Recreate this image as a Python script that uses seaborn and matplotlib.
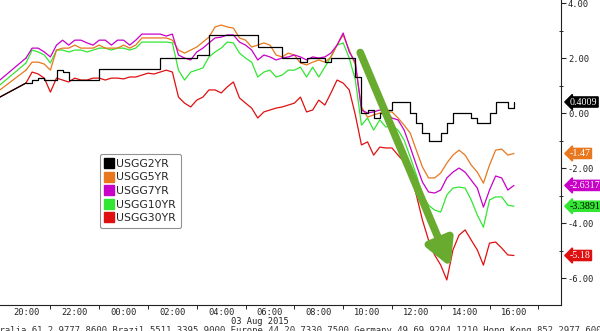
import numpy as np
import pandas as pd
import matplotlib
matplotlib.use("Agg")
import matplotlib.pyplot as plt
import seaborn as sns
from matplotlib.lines import Line2D

# ---------------- data ----------------
series_names = ["USGG2YR", "USGG5YR", "USGG7YR", "USGG10YR", "USGG30YR"]
colors = ["#000000", "#e8771e", "#c800c8", "#33e633", "#e01010"]
last_values = [0.4009, -1.47, -2.6317, -3.3891, -5.18]
last_labels = ["0.4009", "-1.47", "-2.6317", "-3.3891", "-5.18"]
tag_text_colors = ["white", "white", "white", "black", "white"]

# hours relative to 20:00 (02 Aug); first point = previous close, then 15-min bars to 16:00 (03 Aug)
prev_close_hour = -1.07
bar_hours = np.arange(81) * 0.25

usgg2 = [0.58,
         1.09, 1.20, 1.27, 1.20, 1.20, 1.56, 1.49, 1.20, 1.20, 1.20,
         1.20, 1.20, 1.60, 1.60, 1.60, 1.60, 1.60, 1.60, 1.60, 1.60,
         1.60, 1.60, 2.00, 2.00, 2.00, 2.00, 2.00, 2.00, 2.11, 2.11,
         2.84, 2.84, 2.84, 2.84, 2.84, 2.84, 2.84, 2.84, 2.40, 2.40,
         2.40, 2.40, 2.00, 2.00, 2.00, 1.85, 2.00, 2.00, 2.00, 1.85,
         2.00, 2.00, 2.00, 2.00, 1.31, 0.00, 0.11, -0.18, 0.00, 0.11,
         0.40, 0.40, 0.40, 0.00, -0.36, -0.73, -1.02, -1.02, -0.73, -0.36,
         0.00, 0.00, 0.00, -0.18, -0.36, -0.36, 0.00, 0.40, 0.40, 0.18,
         0.4009]
usgg5 = [0.84,
         1.56, 1.85, 1.85, 1.78, 1.56, 2.29, 2.36, 2.36, 2.47, 2.36,
         2.36, 2.36, 2.47, 2.36, 2.36, 2.36, 2.47, 2.36, 2.47, 2.73,
         2.73, 2.73, 2.73, 2.73, 2.65, 2.29, 2.18, 2.29, 2.40, 2.58,
         2.76, 3.13, 3.20, 3.13, 3.09, 2.73, 2.65, 2.40, 2.47, 2.55,
         2.47, 2.11, 2.04, 2.18, 2.11, 1.82, 1.75, 1.85, 1.93, 1.85,
         2.04, 2.47, 2.84, 2.29, 1.75, 0.22, -0.15, -0.07, 0.00, 0.04,
         0.04, -0.18, -0.44, -0.73, -1.35, -1.96, -2.36, -2.36, -2.18, -1.82,
         -1.53, -1.35, -1.53, -1.89, -2.15, -2.55, -1.89, -1.35, -1.31, -1.53,
         -1.47]
usgg7 = [1.20,
         2.00, 2.36, 2.36, 2.22, 2.04, 2.47, 2.65, 2.47, 2.65, 2.65,
         2.55, 2.47, 2.65, 2.65, 2.47, 2.65, 2.65, 2.47, 2.65, 2.87,
         2.87, 2.87, 2.87, 2.80, 2.87, 2.11, 2.00, 1.93, 2.22, 2.36,
         2.55, 2.73, 2.76, 2.84, 2.84, 2.58, 2.47, 2.29, 1.93, 2.11,
         2.04, 1.93, 2.00, 2.04, 2.11, 2.04, 1.93, 2.04, 2.00, 2.04,
         2.18, 2.47, 2.91, 2.22, 1.85, 0.11, 0.00, 0.04, 0.11, 0.04,
         -0.18, -0.25, -0.62, -1.24, -1.89, -2.51, -2.87, -2.91, -2.80, -2.36,
         -2.15, -2.00, -2.15, -2.44, -2.73, -3.42, -2.80, -2.29, -2.36, -2.80,
         -2.6317]
usgg10 = [1.02,
          1.82, 2.29, 2.22, 2.11, 1.82, 2.29, 2.29, 2.22, 2.29, 2.29,
          2.22, 2.29, 2.36, 2.36, 2.29, 2.36, 2.36, 2.29, 2.36, 2.58,
          2.58, 2.58, 2.58, 2.58, 2.55, 1.56, 1.20, 1.49, 1.56, 1.64,
          2.04, 2.22, 2.36, 2.58, 2.55, 2.18, 2.00, 1.85, 1.31, 1.49,
          1.56, 1.31, 1.38, 1.56, 1.56, 1.67, 1.31, 1.67, 1.31, 1.67,
          2.04, 2.47, 2.55, 2.00, 1.20, -0.44, -0.18, -0.62, -0.25, -0.51,
          -0.44, -0.62, -0.98, -1.60, -2.25, -2.98, -3.35, -3.53, -3.60, -2.98,
          -2.73, -2.69, -2.73, -3.16, -3.71, -4.15, -3.16, -3.05, -3.05, -3.35,
          -3.3891]
usgg30 = [0.58,
          1.09, 1.49, 1.42, 1.27, 0.76, 1.27, 1.20, 1.13, 1.27, 1.20,
          1.20, 1.27, 1.27, 1.20, 1.27, 1.27, 1.24, 1.31, 1.31, 1.38,
          1.45, 1.42, 1.49, 1.56, 1.49, 0.58, 0.36, 0.22, 0.47, 0.58,
          0.84, 0.84, 0.73, 0.95, 1.13, 0.55, 0.36, 0.18, -0.18, 0.04,
          0.11, 0.18, 0.22, 0.29, 0.36, 0.58, 0.04, 0.11, 0.47, 0.29,
          0.73, 1.20, 1.09, 0.84, -0.07, -1.16, -1.05, -1.53, -1.24, -1.27,
          -1.27, -1.53, -1.78, -2.18, -2.98, -3.89, -4.62, -5.16, -5.53, -6.07,
          -4.98, -4.44, -4.25, -4.62, -4.98, -5.53, -4.73, -4.69, -4.91, -5.16,
          -5.18]

x_tick_hours = list(range(0, 21, 2))
x_tick_labels = ["20:00", "22:00", "00:00", "02:00", "04:00", "06:00",
                 "08:00", "10:00", "12:00", "14:00", "16:00"]
y_ticks = [-6, -4, -2, 0, 2, 4]
date_label = "03 Aug 2015"
footer = ("Australia 61 2 9777 8600 Brazil 5511 3395 9000 Europe 44 20 7330 7500 "
          "Germany 49 69 9204 1210 Hong Kong 852 2977 6000")

# ---------------- frame ----------------
times = np.concatenate([[prev_close_hour], bar_hours])
all_vals = [usgg2, usgg5, usgg7, usgg10, usgg30]
frames = []
for name, vals in zip(series_names, all_vals):
    frames.append(pd.DataFrame({"series": name, "hour": times, "value": vals}))
df = pd.concat(frames, ignore_index=True)
palette = dict(zip(series_names, colors))

sns.set_style("white")
plt.rcParams["axes.unicode_minus"] = False

fig = plt.figure(figsize=(6.0, 3.31), dpi=100)
ax = fig.add_axes([0.0, 1 - 305 / 331, 561 / 600, 305 / 331])

draw_order = ["USGG30YR", "USGG10YR", "USGG5YR", "USGG7YR", "USGG2YR"]
ramp = df[df["hour"] <= 0]
main = df[df["hour"] >= 0]
for name in draw_order:
    sub_r = ramp[ramp["series"] == name]
    sub_m = main[main["series"] == name]
    sns.lineplot(data=sub_r, x="hour", y="value", color=palette[name], lw=0.9,
                 estimator=None, sort=True, ax=ax, legend=False)
    style = "steps-post" if name == "USGG2YR" else "default"
    sns.lineplot(data=sub_m, x="hour", y="value", color=palette[name], lw=0.9,
                 estimator=None, sort=True, ax=ax, legend=False, drawstyle=style)

ax.set_xlim(-1.066, 21.93)
ax.set_ylim(-6.98, 4.11)
ax.set_xlabel("")
ax.set_ylabel("")

for s in ["left", "top"]:
    ax.spines[s].set_visible(False)
for s in ["bottom", "right"]:
    ax.spines[s].set_visible(True)
    ax.spines[s].set_color("#222222")
    ax.spines[s].set_linewidth(0.8)

ax.yaxis.tick_right()
ax.set_yticks(y_ticks)
ax.set_yticklabels([f"{v:.2f}" for v in y_ticks], family="DejaVu Sans Mono", fontsize=6.3, color="#222222")
ax.set_yticks([-5, -3, -1, 1, 3], minor=True)
ax.tick_params(axis="y", which="major", direction="out", length=3.5, width=0.8, pad=1.5, right=True, left=False)
ax.tick_params(axis="y", which="minor", direction="inout", length=3, width=0.7, right=True, left=False)

ax.set_xticks(x_tick_hours)
ax.set_xticklabels(x_tick_labels, family="DejaVu Sans Mono", fontsize=6.3, color="#222222")
ax.set_xticks([h + 1 for h in x_tick_hours], minor=True)
ax.tick_params(axis="x", which="major", length=0, pad=2.5)
ax.tick_params(axis="x", which="minor", direction="out", length=3, width=0.7, bottom=True)

# legend
handles = [Line2D([0], [0], marker="s", linestyle="none", markersize=7,
                  markerfacecolor=c, markeredgecolor=c) for c in colors]
leg = ax.legend(handles, series_names, loc="upper left",
                bbox_to_anchor=(100 / 561, 1 - 154 / 305),
                borderaxespad=0, frameon=True, fancybox=True,
                prop={"family": "DejaVu Sans", "size": 7.8},
                handlelength=0.8, handletextpad=0.25, labelspacing=0.33, borderpad=0.45)
leg.get_frame().set_edgecolor("#777777")
leg.get_frame().set_linewidth(0.8)

# last-value tags on the right axis
for val, lab, col, tc in zip(last_values, last_labels, colors, tag_text_colors):
    ax.annotate(lab, xy=(1.0, val), xycoords=("axes fraction", "data"),
                xytext=(6.5, 0), textcoords="offset points", ha="left", va="center",
                family="Liberation Serif", fontsize=7.2, color=tc, annotation_clip=False,
                bbox=dict(boxstyle="larrow,pad=0.06", fc=col, ec=col))

# green trend arrow
ax.annotate("", xy=(17.4, -5.6), xytext=(13.7, 2.2), xycoords="data",
            arrowprops=dict(arrowstyle="-|>,head_length=1.1,head_width=0.6",
                            lw=5.5, color="#69ab2f", mutation_scale=14,
                            shrinkA=0, shrinkB=0, capstyle="round"))

fig.text(260 / 600, 1 - 321 / 331, date_label, ha="center", va="center",
         family="DejaVu Sans Mono", fontsize=6.3, color="#222222")
fig.text(-22 / 600, 1 - 326 / 331, footer, ha="left", va="top",
         family="DejaVu Sans Mono", fontsize=6.4, color="#333333")

fig.savefig("out.png", dpi=100)
